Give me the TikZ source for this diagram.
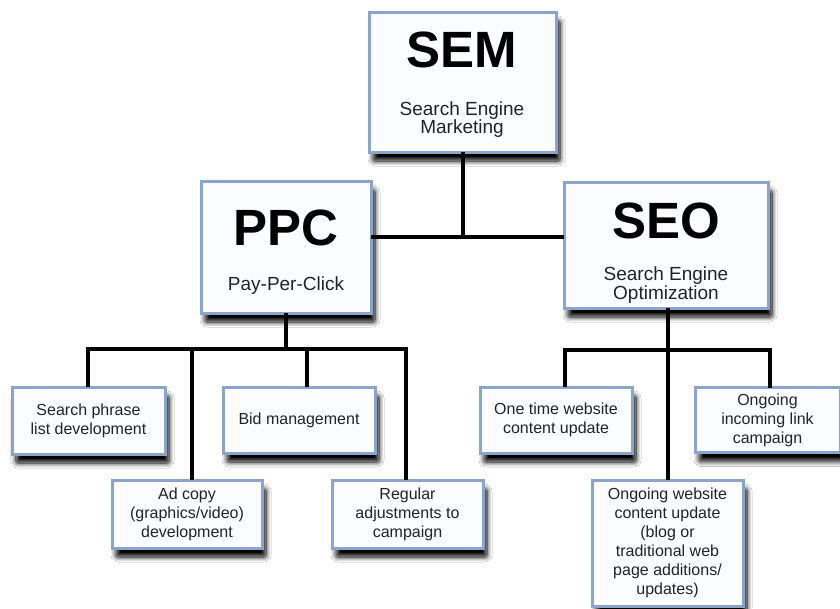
\documentclass[tikz,border=0pt]{standalone}
\usepackage{fontspec}
\setmainfont{Liberation Sans}
\usetikzlibrary{shadows.blur}
\definecolor{boxedge}{RGB}{138,164,202}
\definecolor{boxfill}{RGB}{250,252,255}
\definecolor{inktext}{RGB}{35,35,35}
\tikzset{
  card/.style={draw=boxedge, line width=3pt, fill=boxfill, inner sep=0pt, outer sep=0pt,
    align=center, text=inktext,
    blur shadow={shadow xshift=4pt, shadow yshift=-9pt, shadow blur radius=5pt,
      shadow blur extra rounding=2pt, shadow opacity=100, shadow blur steps=10}},
  small/.style={card, font=\fontsize{16}{19}\selectfont},
  headword/.style={anchor=base, inner sep=0pt, text=black, font=\fontsize{51}{54}\selectfont\bfseries},
  subword/.style={anchor=base, inner sep=0pt, text=inktext, font=\fontsize{19}{21}\selectfont},
  link/.style={line width=4pt, black}
}
\begin{document}
\begin{tikzpicture}[x=1pt,y=-1pt]
\useasboundingbox[fill=white] (0,0) rectangle (840,608);

% junction points of the tree connectors
\coordinate (topj) at (463,237);
\coordinate (ppcj) at (286,349);
\coordinate (seoj) at (668,349);

% top-level boxes with their titles
\node[card, minimum width=187pt, minimum height=140pt] (sem) at (462.5,82) {};
\node[headword] (semtitle) at (462,67) {SEM};
\node[subword] (semsub1) at (462,115) {Search Engine};
\node[subword] (semsub2) at (462,133.5) {Marketing};

\node[card, minimum width=170pt, minimum height=132pt] (ppc) at (286,247) {};
\node[headword] (ppctitle) at (286,245) {PPC};
\node[subword] (ppcsub) at (286,290.5) {Pay-Per-Click};

\node[card, minimum width=204pt, minimum height=126pt] (seo) at (666,245) {};
\node[headword] (seotitle) at (666,238) {SEO};
\node[subword] (seosub1) at (666,280) {Search Engine};
\node[subword] (seosub2) at (666,299) {Optimization};

% activity boxes
\node[small, minimum width=153pt, minimum height=67pt] (phrase) at (88.5,420.5)
  {Search phrase\\list development};
\node[small, minimum width=152pt, minimum height=66pt] (bid) at (299,420)
  {Bid management};
\node[small, minimum width=150pt, minimum height=68pt] (adcopy) at (187,514)
  {Ad copy\\(graphics/video)\\development};
\node[small, minimum width=151pt, minimum height=68pt] (regular) at (407.5,514)
  {Regular\\adjustments to\\campaign};

\node[small, minimum width=152pt, minimum height=66pt] (onetime) at (556,420)
  {One time website\\content update};
\node[small, minimum width=145pt, minimum height=65pt] (inlink) at (767.5,420)
  {Ongoing\\incoming link\\campaign};
\node[small, minimum width=151pt, minimum height=126pt] (ongoing) at (667.5,543)
  {Ongoing website\\content update\\(blog or\\traditional web\\page additions/\\updates)};

% top level
\draw[link] (sem.south -| topj) -- (topj);
\draw[link] (ppc.east |- topj) -- (seo.west |- topj);

% PPC branch
\draw[link] (ppc.south -| ppcj) -- (ppcj);
\draw[link] (phrase.north -| 88,0) -- (88,349) -- (406,349) -- (regular.north -| 406,0);
\draw[link] (192,349) -- (adcopy.north -| 192,0);
\draw[link] (307,349) -- (bid.north -| 307,0);

% SEO branch
\draw[link] (seo.south -| seoj) -- (ongoing.north -| seoj);
\draw[link] (onetime.north -| 565,0) -- (565,350) -- (770,350) -- (inlink.north -| 770,0);
\end{tikzpicture}
\end{document}
